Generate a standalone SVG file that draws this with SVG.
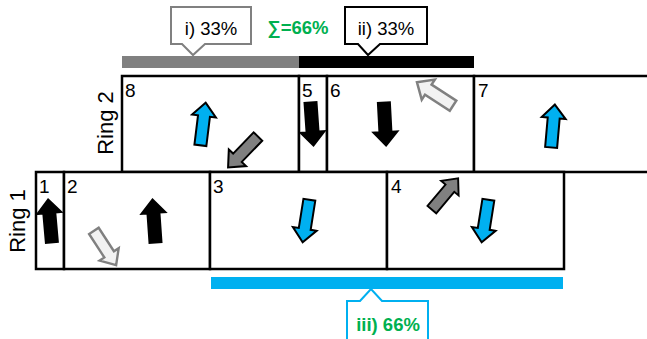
<svg xmlns="http://www.w3.org/2000/svg" width="647" height="339" viewBox="0 0 647 339">
<defs>
<style>
.box{fill:#fff;stroke:#000;stroke-width:2.5}
.num{font-family:"Liberation Sans",Arial,sans-serif;font-size:19px;fill:#000}
.lbl{font-family:"Liberation Sans",Arial,sans-serif;font-size:18.5px;fill:#000;text-anchor:middle}
.grn{font-family:"Liberation Sans",Arial,sans-serif;font-size:18.5px;font-weight:bold;fill:#00B050;text-anchor:middle}
.ring{font-family:"Liberation Sans",Arial,sans-serif;font-size:22px;fill:#000;text-anchor:middle}
.blk{fill:#000;stroke:#000;stroke-width:2}
.blu{fill:#00B0F0;stroke:#000;stroke-width:2}
.dgr{fill:#808080;stroke:#000;stroke-width:2}
.lgr{fill:#F2F2F2;stroke:#808080;stroke-width:2.5}
</style>
<path id="arr" d="M0,-21.5 L12,-8 L6,-8 L6,21.5 L-6,21.5 L-6,-8 L-12,-8 Z"/>
</defs>
<g id="bars">
<rect x="122" y="56" width="177" height="12" fill="#808080"/>
<rect x="299" y="56" width="175" height="12" fill="#000"/>
<rect x="211" y="277" width="352" height="12" fill="#00B0F0"/>
</g>
<g id="callout-i">
<path d="M171,7 H251 V44 H205 L193,55 L182,44 H171 Z" fill="#fff" stroke="#808080" stroke-width="2"/>
<text class="lbl" x="211" y="35">i) 33%</text>
</g>
<g id="callout-ii">
<path d="M345,7 H427 V44 H380 L368,55 L358,44 H345 Z" fill="#fff" stroke="#000" stroke-width="2"/>
<text class="lbl" x="386" y="35">ii) 33%</text>
</g>
<g id="sum"><text class="grn" x="298" y="34">∑=66%</text></g>
<g id="callout-iii">
<path d="M347,301 H360 L371,289 L382,301 H428 V345 H347 Z" fill="#fff" stroke="#00B0F0" stroke-width="2"/>
<text class="grn" x="388" y="331">iii) 66%</text>
</g>
<g id="ring-labels">
<text class="ring" transform="translate(113,123) rotate(-90)">Ring 2</text>
<text class="ring" transform="translate(25,221) rotate(-90)">Ring 1</text>
</g>
<g id="node-8"><rect class="box" x="122" y="76" width="177" height="96"/><text class="num" x="125" y="97">8</text></g>
<g id="node-5"><rect class="box" x="299" y="76" width="28" height="96"/><text class="num" x="302" y="97">5</text></g>
<g id="node-6"><rect class="box" x="327" y="76" width="147" height="96"/><text class="num" x="330" y="97">6</text></g>
<g id="node-7"><rect class="box" x="474" y="76" width="190" height="96"/><text class="num" x="478" y="97">7</text></g>
<g id="node-1"><rect class="box" x="36" y="172" width="28" height="97"/><text class="num" x="39" y="193">1</text></g>
<g id="node-2"><rect class="box" x="64" y="172" width="146" height="97"/><text class="num" x="67" y="193">2</text></g>
<g id="node-3"><rect class="box" x="210" y="172" width="177" height="97"/><text class="num" x="213" y="193">3</text></g>
<g id="node-4"><rect class="box" x="387" y="172" width="177" height="97"/><text class="num" x="391" y="193">4</text></g>
<g id="arrows">
<use href="#arr" class="blu" transform="translate(203,124) rotate(7)"/>
<use href="#arr" class="blk" transform="translate(312,124) rotate(176)"/>
<use href="#arr" class="blk" transform="translate(385,124) rotate(177)"/>
<use href="#arr" class="lgr" transform="translate(435,94) rotate(-57)"/>
<use href="#arr" class="dgr" transform="translate(243,152) rotate(-136)"/>
<use href="#arr" class="blu" transform="translate(553,126) rotate(5)"/>
<use href="#arr" class="blk" transform="translate(50,221) rotate(-5)"/>
<use href="#arr" class="blk" transform="translate(154,221) rotate(-4)"/>
<use href="#arr" class="lgr" transform="translate(105,248) rotate(147) scale(0.95)"/>
<use href="#arr" class="blu" transform="translate(306,221) rotate(189)"/>
<use href="#arr" class="dgr" transform="translate(445,194) rotate(40) scale(0.95)"/>
<use href="#arr" class="blu" transform="translate(485,221) rotate(189)"/>
</g>
</svg>
